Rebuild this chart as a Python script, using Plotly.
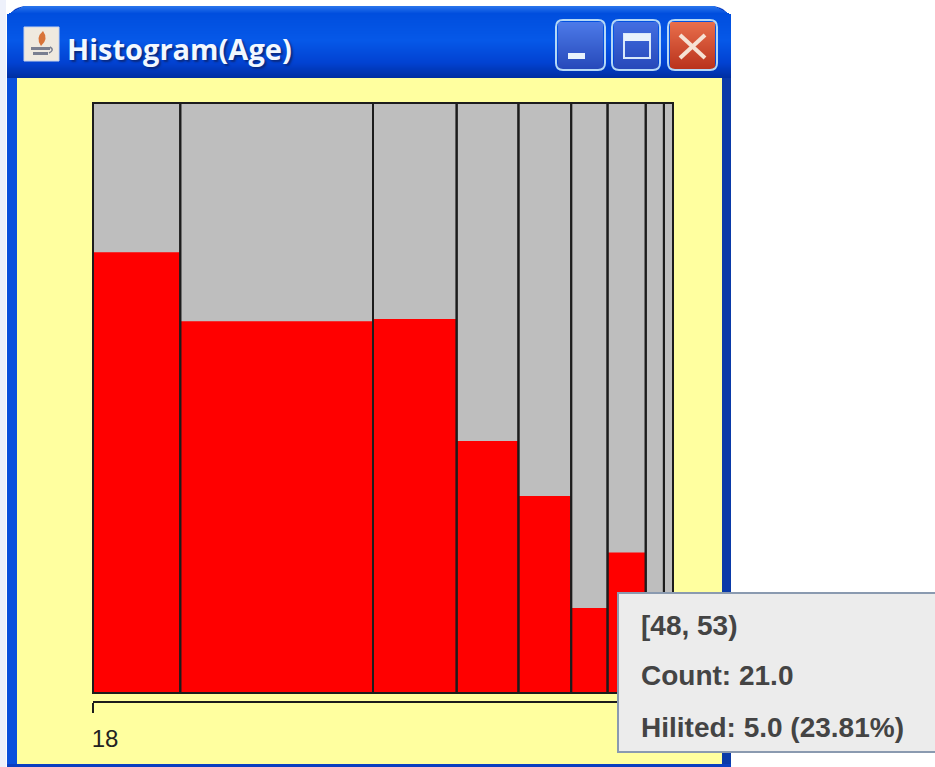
import plotly.graph_objects as go

W, H = 935, 767

# --- data ---
bin_counts = [48, 106, 46, 34, 29, 20, 21, 10, 5]
hilited_pct = [74.7, 63.0, 63.4, 42.7, 33.4, 14.4, 23.81, 0, 0]
axis_tick_label = "18"
window_title = "Histogram(Age)"
tooltip_lines = ["[48, 53)", "Count: 21.0", "Hilited: 5.0 (23.81%)"]

lefts = [sum(bin_counts[:i]) for i in range(len(bin_counts))]
centres = [l + c / 2 for l, c in zip(lefts, bin_counts)]
total = sum(bin_counts)
full = [100] * len(bin_counts)


def px(x):
    return x / W


def py(y):
    return 1 - y / H


def rect(x0, y0, x1, y1, fill, line=None, lw=0, layer="below"):
    return dict(type="rect", xref="paper", yref="paper", x0=px(x0), x1=px(x1), y0=py(y0), y1=py(y1),
                fillcolor=fill, line=dict(color=line or fill, width=lw), layer=layer)


def path(cmds, fill=None, line=None, lw=0, layer="below"):
    out = []
    for c in cmds:
        if isinstance(c, str):
            out.append(c)
        else:
            out.append(f"{px(c[0]):.5f},{py(c[1]):.5f}")
    return dict(type="path", xref="paper", yref="paper", path=" ".join(out),
                fillcolor=fill or "rgba(0,0,0,0)", line=dict(color=line or "rgba(0,0,0,0)", width=lw), layer=layer)


def rounded(x0, y0, x1, y1, r):
    return ["M", (x0 + r, y0), "L", (x1 - r, y0), "Q", (x1, y0), (x1, y0 + r), "L", (x1, y1 - r),
            "Q", (x1, y1), (x1 - r, y1), "L", (x0 + r, y1), "Q", (x0, y1), (x0, y1 - r), "L", (x0, y0 + r),
            "Q", (x0, y0), (x0 + r, y0), "Z"]


def mix(a, b, t):
    return "rgb(%d,%d,%d)" % tuple(round(a[i] + (b[i] - a[i]) * t) for i in range(3))


shapes = []
# outer frame
shapes.append(rect(0, 0, 6, H, "#eef1fb"))
shapes.append(path(["M", (7, H), "L", (7, 28), "Q", (7, 6), (28, 6), "L", (710, 6), "Q", (731, 6), (731, 28),
                    "L", (731, H), "Z"], fill="#0b3fc4"))
shapes.append(rect(7, 78, 17, H, "#0a50dc"))
shapes.append(rect(722, 78, 731, H, "#0a3aa8"))
# title bar gradient
stops = [(6, (40, 115, 235)), (13, (0, 78, 222)), (40, (6, 88, 232)), (62, (2, 66, 210)), (78, (0, 46, 160))]
for (y0, c0), (y1, c1) in zip(stops, stops[1:]):
    for y in range(y0, y1):
        t = (y - y0) / (y1 - y0)
        inset = max(0, int(16 - (y - 6) * 1.9)) if y < 15 else 0
        shapes.append(rect(7 + inset, y, 731 - inset, y + 1, mix(c0, c1, t)))
# client area
shapes.append(rect(17, 78, 722, 764, "#ffff9f"))
shapes.append(rect(7, 764, 731, H, "#0a3fc0"))

# java icon
shapes.append(rect(24, 27, 59, 61, "#efe9df", "#c9d3ea", 1))
shapes.append(path(["M", (43, 31), "Q", (35, 38), (41, 46), "Q", (49, 39), (43, 31), "Z"], fill="#d8743a"))
shapes.append(rect(31, 47, 50, 50, "#7a7f90"))
shapes.append(rect(33, 52, 48, 55, "#7a7f90"))
shapes.append(path(["M", (50, 47), "Q", (55, 50), (49, 53)], line="#7a7f90", lw=1.5))

# window buttons
for x0, x1, c0, c1 in [(556, 605, (76, 122, 232), (38, 72, 185)),
                       (612, 660, (66, 110, 225), (38, 72, 185)),
                       (668, 717, (232, 110, 75), (185, 50, 28))]:
    for y in range(22, 69):
        shapes.append(rect(x0 + 2, y, x1 - 2, y + 1, mix(c0, c1, (y - 22) / 47)))
    shapes.append(path(rounded(x0, 20, x1, 70, 7), line="#b4d8f6", lw=2))
shapes.append(rect(568, 53, 585, 59, "#e8f2fc"))
shapes.append(rect(624, 34, 650, 58, "rgba(0,0,0,0)", "#d8e8fa", 2))
shapes.append(rect(624, 34, 650, 41, "#e8f2fc"))
shapes.append(path(["M", (680, 35), "L", (705, 58)], line="#f6e2d4", lw=4))
shapes.append(path(["M", (705, 35), "L", (680, 58)], line="#f6e2d4", lw=4))

# plot frame, drawn over the bars but under the tooltip
shapes.append(dict(type="rect", xref="x domain", yref="y domain", x0=0, x1=1, y0=0, y1=1,
                   fillcolor="rgba(0,0,0,0)", line=dict(color="#1c1c1c", width=2), layer="above"))

# tooltip box
shapes.append(rect(618, 593, W + 2, 752, "#ececec", "#8a9ab0", 2, layer="above"))

text_font = "Liberation Sans"
annotations = [
    dict(x=px(65), y=py(48), xref="paper", yref="paper", xanchor="left", yanchor="middle", showarrow=False,
         text=f"<b>{window_title}</b>",
         font=dict(family="Open Sans", size=29, color="#f2f8ff", shadow="2px 2px 2px #0a2a80")),
]
for line, yy in zip(tooltip_lines, [625, 675, 727]):
    annotations.append(dict(x=px(639), y=py(yy), xref="paper", yref="paper", xanchor="left", yanchor="middle",
                            showarrow=False, text=f"<b>{line}</b>",
                            font=dict(family=text_font, size=28, color="#444444")))

fig = go.Figure()
fig.add_bar(x=centres, y=full, width=bin_counts, marker=dict(color="#bebebe", line=dict(width=0)), hoverinfo="skip")
fig.add_bar(x=centres, y=hilited_pct, width=bin_counts, marker=dict(color="#ff0000", line=dict(width=0)))
fig.add_bar(x=centres, y=full, width=bin_counts, cliponaxis=False,
            marker=dict(color="rgba(0,0,0,0)", line=dict(color="#1c1c1c", width=2)), hoverinfo="skip")

fig.update_layout(
    width=W, height=H, autosize=False, barmode="overlay", showlegend=False,
    paper_bgcolor="#ffffff", plot_bgcolor="rgba(0,0,0,0)",
    margin=dict(l=0, r=0, t=0, b=0, pad=0),
    shapes=shapes, annotations=annotations,
    xaxis=dict(domain=[px(93), px(673)], range=[0, total], anchor="free", position=py(702),
               showgrid=False, zeroline=False, showline=True, linecolor="#1c1c1c", linewidth=2,
               ticks="outside", tickvals=[0], ticktext=[axis_tick_label], ticklen=10, tickwidth=2,
               tickcolor="#1c1c1c", ticklabelshift=12, ticklabelstandoff=5,
               tickfont=dict(family=text_font, size=24, color="#222222")),
    yaxis=dict(domain=[py(693), py(103)], range=[0, 100], visible=False),
)

fig.write_html("out.html", config=dict(displayModeBar=False),
               post_script="document.body.style.margin='0';document.body.style.overflow='hidden';")
